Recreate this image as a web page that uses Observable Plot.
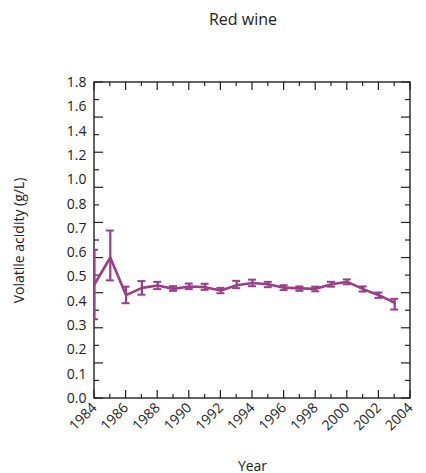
<!DOCTYPE html>
<html>
<head>
<meta charset="utf-8">
<script src="https://cdn.jsdelivr.net/npm/d3@7"></script>
<script src="https://cdn.jsdelivr.net/npm/@observablehq/plot@0.6"></script>
<style>
  html, body { margin: 0; padding: 0; background: #fff; }
  #wrap { position: relative; width: 426px; height: 473px; font-family: "Open Sans", sans-serif; }
  #title { position: absolute; left: 0; width: 486px; top: 8px; text-align: center; font-size: 16px; color: #222; }
  #chart { position: absolute; left: 0; top: 0; }
</style>
</head>
<body>
<div id="wrap">
  <div id="chart"></div>
  <div id="title">Red wine</div>
</div>
<script>
// Data
const years = [1984,1985,1986,1987,1988,1989,1990,1991,1992,1993,1994,1995,1996,1997,1998,1999,2000,2001,2002,2003];
const acidity = [0.47,0.58,0.425,0.455,0.465,0.451,0.461,0.458,0.444,0.466,0.475,0.47,0.456,0.453,0.451,0.47,0.48,0.45,0.425,0.394];
const errLow  = [0.326,0.486,0.392,0.427,0.45,0.443,0.45,0.447,0.433,0.454,0.462,0.458,0.446,0.443,0.441,0.46,0.47,0.44,0.414,0.366];
const errHigh = [0.612,0.691,0.46,0.483,0.48,0.462,0.473,0.472,0.455,0.484,0.489,0.48,0.466,0.461,0.46,0.48,0.49,0.461,0.436,0.41];

// Axis tick labels
const yTickLabels = [0,0.1,0.2,0.3,0.4,0.5,0.6,0.7,0.8,1.0,1.2,1.4,1.6,1.8];
const xTickLabels = [1984,1986,1988,1990,1992,1994,1996,1998,2000,2002,2004];
const xMinorTicks = [1984,1985,1986,1987,1988,1989,1990,1991,1992,1993,1994,1995,1996,1997,1998,1999,2000,2001,2002,2003,2004];
const frameTickCount = 18; // uniform tick marks along the y frame

const data = years.map((y, i) => ({year: y, v: acidity[i], lo: errLow[i], hi: errHigh[i]}));

const W = 426, H = 473;
const mTop = 82, mBottom = 75, mLeft = 94, mRight = 16;
const plotH = H - mTop - mBottom;
const yBreak = H - mBottom - plotH * 8 / 13;

const color = "#9a3f87";

function frameMark(index, scales, values, dims) {
  const g = d3.create("svg:g");
  const x0 = dims.marginLeft, x1 = dims.width - dims.marginRight;
  const y0 = dims.marginTop, y1 = dims.height - dims.marginBottom;
  const stroke = "#222";
  // x ticks (bottom & top)
  xMinorTicks.forEach(yr => {
    const px = scales.x(yr);
    const len = (yr % 2 === 0) ? 8 : 4;
    g.append("line").attr("x1", px).attr("x2", px).attr("y1", y1).attr("y2", y1 - len).attr("stroke", stroke).attr("stroke-width", 1.2);
    g.append("line").attr("x1", px).attr("x2", px).attr("y1", y0).attr("y2", y0 + len).attr("stroke", stroke).attr("stroke-width", 1.2);
  });
  // y ticks (left & right), uniformly spaced
  const fy = d3.scaleLinear().domain([0, frameTickCount]).range([y1, y0]);
  d3.range(frameTickCount + 1).forEach(k => {
    const py = fy(k);
    const len = (k % 2 === 0) ? 9 : 5;
    g.append("line").attr("x1", x0).attr("x2", x0 + len).attr("y1", py).attr("y2", py).attr("stroke", stroke).attr("stroke-width", 1.2);
    g.append("line").attr("x1", x1).attr("x2", x1 - len).attr("y1", py).attr("y2", py).attr("stroke", stroke).attr("stroke-width", 1.2);
  });
  g.append("rect").attr("x", x0).attr("y", y0).attr("width", x1 - x0).attr("height", y1 - y0)
    .attr("fill", "none").attr("stroke", stroke).attr("stroke-width", 1.4);
  return g.node();
}

const chart = Plot.plot({
  width: W,
  height: H,
  marginTop: mTop,
  marginBottom: mBottom,
  marginLeft: mLeft,
  marginRight: mRight,
  style: {fontFamily: "Open Sans, sans-serif", fontSize: "14px", color: "#222", background: "#fff"},
  x: {type: "linear", domain: [1984, 2004], axis: null},
  y: {type: "linear", domain: [0, 0.8, 1.8], range: [H - mBottom, yBreak, mTop], axis: null},
  marks: [
    frameMark,
    Plot.ruleX(data, {x: "year", y1: "lo", y2: "hi", stroke: color, strokeWidth: 2.2}),
    Plot.ruleY(data, {x1: "year", x2: "year", y: "lo", insetLeft: -4, insetRight: -4, stroke: color, strokeWidth: 2, clip: true}),
    Plot.ruleY(data, {x1: "year", x2: "year", y: "hi", insetLeft: -4, insetRight: -4, stroke: color, strokeWidth: 2, clip: true}),
    Plot.line(data, {x: "year", y: "v", stroke: color, strokeWidth: 2.6}),
    Plot.axisY({ticks: yTickLabels, tickSize: 0, tickPadding: 8, tickFormat: d => d.toFixed(1), fontSize: 14,
      label: "Volatile acidity (g/L)", labelAnchor: "center", labelArrow: "none", labelOffset: 80}),
    Plot.axisX({ticks: xTickLabels, tickSize: 0, tickPadding: 7, tickRotate: -45, textAnchor: "end", fontSize: 14,
      tickFormat: d => String(d), label: "Year", labelAnchor: "center", labelArrow: "none", labelOffset: 72})
  ]
});
document.getElementById("chart").appendChild(chart);
</script>
</body>
</html>
